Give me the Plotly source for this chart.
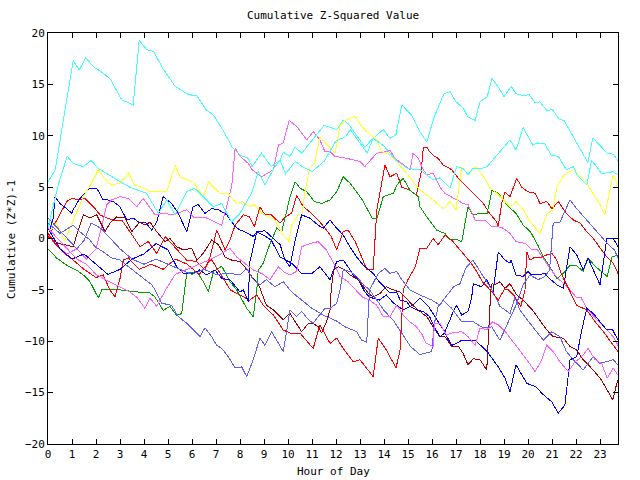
import plotly.graph_objects as go

# ---- data: (hour, cumulative value) pairs per series ----
cyan_a = [(0,5.5),(0.3,6.7),(1.05,17.3),(1.3,16.4),(1.57,17.6),(1.9,16.7),(2.3,16.1),(2.6,15.5),(3.07,13.5),(3.55,13.0),(3.8,19.3),(4.1,18.4),(4.4,18.2),(4.8,16.5),(5.3,14.8),(5.86,14.0),(6.2,13.9),(6.6,12.5),(6.9,12.0),(7.3,10.5),(7.7,8.8),(8.0,8.1),(8.35,7.8),(8.5,7.0),(8.9,8.3),(9.3,7.0),(9.67,7.6),(9.8,8.4),(10.08,8.0),(10.3,8.9),(10.57,8.3),(11.0,9.5),(11.5,11.0),(12.03,10.6),(12.3,11.5),(12.5,11.2),(13.2,8.9),(13.55,9.75),(13.97,10.6),(14.25,9.75),(14.5,10.1),(14.74,13.0),(15.15,12.0),(15.5,10.4),(15.78,9.4),(16.1,11.9),(16.5,14.1),(16.75,14.3),(17.0,13.3),(17.3,12.7),(17.5,11.8),(17.8,11.5),(18.0,13.3),(18.3,13.8),(18.5,15.6),(18.8,14.6),(19.0,13.8),(19.3,14.8),(19.5,14.1),(19.8,13.9),(20.05,14.0),(20.3,13.2),(20.5,13.3),(20.8,12.4),(21.0,12.6),(21.3,11.6),(21.5,11.5),(22.2,8.6),(22.5,7.4),(22.7,9.8),(23.0,9.1),(23.3,8.3),(23.55,8.2),(23.75,7.6)]
cyan_b = [(0,1.0),(0.4,5.0),(0.8,8.0),(1.05,7.3),(1.47,7.0),(1.8,7.6),(2.1,6.8),(2.86,5.7),(3.4,5.0),(4.1,4.4),(4.6,2.45),(4.95,3.75),(5.3,2.3),(5.78,4.55),(6.1,4.9),(6.47,4.07),(6.89,3.1),(7.24,3.4),(7.65,1.6),(8.0,2.45),(8.5,4.5),(8.76,6.5),(9.04,5.2),(9.4,6.8),(9.67,7.6),(9.9,6.3),(10.3,7.5),(10.6,7.0),(11.0,6.5),(11.5,7.5),(12.0,9.5),(12.4,9.9),(12.6,10.6),(13.3,8.3),(13.55,9.75),(14.0,9.0),(14.5,7.6),(15.0,6.8),(15.5,6.7),(16.05,5.7),(16.33,5.9),(16.75,4.9),(17.03,7.0),(17.3,6.8),(17.5,6.2),(17.7,6.8),(18.07,6.8),(18.3,7.0),(18.97,8.9),(19.25,9.6),(19.5,8.6),(19.8,10.8),(20.2,9.1),(20.4,9.3),(20.7,9.2),(20.97,8.1),(21.26,8.0),(21.6,6.7),(21.9,7.0),(22.03,6.2),(22.45,5.2),(22.65,7.6),(22.86,7.0),(23.07,6.3),(23.55,6.5),(23.75,6.2)]
yellow = [(0,0.5),(0.35,1.5),(0.7,-0.2),(1.05,1.8),(1.47,4.07),(1.89,5.7),(2.1,6.7),(2.4,5.7),(2.65,5.2),(3.0,5.4),(3.35,6.35),(3.6,5.2),(3.9,5.0),(4.25,4.55),(4.95,4.55),(5.3,7.15),(5.5,6.0),(5.78,5.7),(6.05,5.5),(6.47,4.07),(6.68,5.5),(7.17,4.4),(7.5,4.4),(7.86,3.4),(8.1,3.6),(8.4,3.1),(8.6,3.3),(8.9,2.45),(9.18,2.1),(9.46,1.8),(9.8,0.34),(10.05,-0.3),(10.15,1.3),(10.43,2.3),(10.57,2.1),(10.7,4.4),(10.9,6.8),(11.1,7.3),(11.33,9.9),(11.75,8.8),(11.96,8.3),(12.17,11.0),(12.4,11.5),(12.8,11.9),(13.07,10.9),(13.4,10.2),(13.7,9.6),(13.9,8.45),(14.25,8.2),(14.5,7.6),(14.8,6.7),(15.5,4.7),(16.05,3.75),(16.47,2.9),(16.75,3.6),(17.0,2.8),(17.24,7.0),(17.5,6.2),(17.8,7.0),(18.1,6.2),(18.4,5.0),(18.7,4.4),(18.97,3.75),(19.25,3.1),(19.5,3.6),(19.8,2.8),(20.1,1.6),(20.5,0.5),(20.8,2.45),(21.05,2.8),(21.2,5.0),(21.5,6.2),(21.9,6.7),(22.2,6.0),(22.45,5.4),(22.7,4.4),(23.0,3.3),(23.2,2.3),(23.55,6.2),(23.75,5.2)]
magenta_1 = [(0,0.3),(0.4,-0.8),(0.8,-1.5),(1.2,-1.0),(1.6,-2.0),(2.0,-1.0),(2.24,1.15),(2.45,3.3),(2.65,3.75),(3.0,4.07),(3.35,3.9),(3.7,3.1),(3.97,3.9),(4.46,2.3),(4.8,2.45),(5.22,2.3),(5.78,2.8),(6.1,2.0),(6.6,2.0),(7.24,1.3),(7.65,5.0),(7.8,8.8),(8.0,8.0),(8.35,7.3),(8.5,6.7),(8.9,6.0),(9.4,6.7),(9.6,9.1),(9.8,9.3),(10.05,11.5),(10.36,10.9),(10.78,9.6),(11.05,10.4),(11.33,9.6),(11.54,8.45),(11.75,8.45),(11.96,8.0),(12.45,7.8),(13.0,7.5),(13.2,7.0),(13.7,8.3),(14.1,8.45),(14.25,8.6),(14.45,7.8),(14.74,7.3),(15.1,6.7),(15.2,8.3),(15.43,7.8),(15.64,6.7),(15.78,6.2),(16.05,6.35),(16.33,5.0),(16.54,4.4),(16.8,4.07),(17.03,3.75),(17.3,3.4),(17.5,3.3),(17.8,1.8),(18.2,1.8),(18.35,1.5),(18.5,1.15),(18.76,1.15),(18.97,1.0),(19.25,0.5),(19.5,-0.3),(19.9,-0.5),(20.15,-1.1),(20.4,-1.1),(20.7,-2.1),(20.97,-3.1),(21.3,-4.0),(21.7,-4.85),(22.0,-5.7),(22.2,-5.7),(22.45,-6.8),(22.7,-7.45),(23.0,-8.25),(23.3,-8.9),(23.55,-9.55),(23.75,-10.4)]
magenta_2 = [(0,1.0),(0.4,0.0),(0.8,-1.0),(1.2,-2.0),(1.6,-2.5),(2.0,-3.5),(2.4,-4.0),(2.8,-4.5),(3.2,-5.0),(3.4,-5.2),(3.7,-5.7),(4.04,-6.8),(4.25,-5.8),(4.53,-6.6),(4.9,-5.0),(5.3,-3.5),(5.8,-3.0),(6.3,-2.5),(6.8,-2.0),(7.2,-1.5),(7.58,-0.95),(7.86,-1.8),(8.2,-2.4),(8.55,-3.05),(8.9,-3.4),(9.25,-4.0),(9.6,-2.75),(9.8,-3.2),(10.08,-3.55),(10.36,-3.2),(10.57,-0.8),(10.9,-0.5),(11.26,-0.3),(11.6,-1.1),(11.9,-2.4),(12.17,-3.7),(12.5,-4.2),(12.8,-5.0),(13.1,-5.7),(13.4,-6.0),(13.7,-6.5),(13.97,-7.6),(14.25,-7.6),(14.53,-6.5),(14.8,-7.45),(15.08,-8.1),(15.36,-8.6),(15.6,-9.4),(15.75,-10.2),(16.05,-10.5),(16.1,-8.25),(16.33,-8.25),(16.6,-9.4),(16.82,-9.2),(17.24,-9.07),(17.5,-9.55),(17.8,-10.4),(18.0,-8.7),(18.3,-8.9),(18.5,-8.1),(18.76,-8.4),(19.1,-9.2),(19.5,-10.4),(19.95,-11.8),(20.3,-12.96),(20.57,-11.8),(20.78,-10.4),(21.05,-11.0),(21.33,-12.0),(21.68,-12.96),(21.96,-12.0),(22.24,-11.5),(22.5,-10.7),(22.8,-11.8),(23.07,-12.15),(23.3,-13.6),(23.55,-12.6),(23.75,-13.3)]
green = [(0,-1.0),(0.36,-1.9),(0.78,-2.6),(1.2,-3.1),(1.47,-3.55),(1.75,-4.2),(2.1,-5.8),(2.24,-5.0),(2.6,-5.0),(3.0,-5.0),(3.7,-5.2),(4.25,-5.3),(4.46,-5.7),(4.8,-7.0),(5.08,-6.6),(5.36,-7.5),(5.57,-7.3),(5.7,-5.0),(5.78,-3.4),(6.2,-3.2),(6.47,-4.2),(6.68,-5.2),(6.9,-3.2),(7.24,-2.7),(7.58,-4.2),(7.86,-5.0),(8.28,-6.8),(8.55,-7.6),(8.7,-5.0),(8.76,-3.1),(8.97,-2.4),(9.25,-0.5),(9.53,1.0),(9.74,0.66),(9.95,2.6),(10.1,4.2),(10.3,5.5),(10.5,4.9),(10.78,4.55),(11.1,3.6),(11.4,3.4),(11.75,3.75),(12.03,4.55),(12.3,6.0),(12.6,5.35),(12.86,4.55),(13.1,3.75),(13.5,2.0),(13.7,1.9),(13.97,4.07),(14.4,4.4),(14.53,5.2),(14.8,5.85),(15.08,4.7),(15.43,4.07),(15.5,3.1),(15.78,2.1),(16.2,0.8),(16.54,0.5),(16.75,-0.15),(17.03,-0.1),(17.24,-0.3),(17.5,3.1),(17.7,2.3),(18.0,2.45),(18.3,2.45),(18.5,4.7),(18.76,4.4),(18.97,3.75),(19.18,3.1),(19.5,2.45),(19.8,1.3),(20.1,0.66),(20.4,-0.6),(20.64,-1.8),(20.9,-2.7),(21.2,-3.9),(21.47,-3.4),(21.75,-2.6),(22.0,-2.6),(22.3,-3.2),(22.5,-1.9),(22.8,-2.7),(23.07,-3.2),(23.3,-3.7),(23.5,-1.8),(23.75,-1.6)]
red_c = [(0,0.0),(0.3,1.5),(0.78,3.6),(0.99,3.9),(1.33,3.75),(1.54,3.9),(1.89,3.1),(2.17,2.3),(2.45,2.0),(2.72,1.8),(3.07,1.8),(3.28,1.15),(3.55,0.2),(3.83,-0.8),(4.18,-0.3),(4.53,-1.45),(4.88,0.2),(5.15,-0.5),(5.5,-1.45),(5.78,-2.1),(6.2,-2.25),(6.54,-3.05),(6.75,-1.8),(7.03,0.83),(7.38,-1.1),(7.58,-0.15),(7.8,1.3),(8.14,2.3),(8.4,2.1),(8.6,1.15),(8.83,3.1),(9.04,2.3),(9.3,2.3),(9.67,1.5),(9.88,2.1),(10.15,2.45),(10.36,4.2),(10.64,3.1),(10.9,2.6),(11.26,1.8),(11.6,0.83),(11.8,0.2),(12.03,-1.1),(12.3,0.66),(12.5,0.83),(12.8,-0.3),(13.07,-1.8),(13.28,-3.05),(13.55,-3.05),(13.7,2.8),(14.04,7.15),(14.25,6.0),(14.53,6.35),(14.74,5.0),(15.08,4.7),(15.35,4.2),(15.55,6.5),(15.64,8.9),(15.78,8.9),(15.9,8.45),(16.1,8.0),(16.26,7.8),(16.47,7.15),(16.82,6.7),(17.1,5.85),(17.45,5.0),(17.8,4.2),(18.14,3.4),(18.4,2.45),(18.7,1.6),(18.76,1.15),(18.9,3.4),(19.04,4.55),(19.25,4.07),(19.53,5.85),(19.74,5.0),(20.0,4.55),(20.3,4.4),(20.5,3.4),(20.78,3.6),(21.0,2.9),(21.26,3.6),(21.6,2.45),(21.89,1.8),(22.17,1.5),(22.45,0.66),(22.72,0.0),(23.07,-1.1),(23.28,-1.8),(23.55,-2.4),(23.75,-3.4)]
red_a = [(0,0.5),(0.3,-0.5),(0.7,-1.5),(1.0,-2.0),(1.5,-3.0),(2.0,-3.8),(2.3,-3.55),(2.58,-5.0),(2.8,-5.7),(2.86,-5.0),(3.0,-3.9),(3.14,-2.1),(3.35,-1.9),(3.8,-3.0),(4.3,-2.5),(4.8,-3.0),(5.3,-2.0),(5.8,-2.5),(6.3,-3.5),(6.8,-2.0),(7.2,-3.5),(7.6,-5.0),(8.0,-5.5),(8.4,-6.0),(8.7,-5.5),(8.97,-6.5),(9.39,-7.45),(9.8,-8.9),(10.08,-9.2),(10.5,-9.2),(11.05,-10.7),(11.33,-8.4),(11.75,-10.2),(12.03,-9.7),(12.3,-10.7),(12.72,-12.0),(13.0,-11.8),(13.28,-12.6),(13.55,-13.45),(13.76,-9.7),(14.1,-10.85),(14.5,-12.6),(14.67,-10.85),(14.8,-5.0),(15.0,-4.0),(15.3,-2.75),(15.5,-0.95),(15.78,-0.95),(16.05,0.0),(16.26,-0.6),(16.54,0.34),(16.82,-0.15),(17.17,-1.1),(17.58,-2.25),(17.86,-3.2),(18.1,-4.2),(18.5,-5.2),(18.76,-6.0),(19.0,-5.0),(19.18,-5.0),(19.4,-5.5),(19.7,-6.6),(19.875,-5.0),(19.95,-1.3),(20.08,-2.1),(20.3,-1.8),(20.5,-1.9),(20.78,-1.6),(21.0,-1.45),(21.2,-2.1),(21.4,-3.5),(21.7,-5.0),(22.03,-6.5),(22.45,-6.96),(22.8,-8.1),(23.14,-9.07),(23.49,-10.2),(23.75,-11.0)]
dark_red = [(0,0.2),(0.43,-0.5),(0.7,-0.6),(1.05,-0.8),(1.26,0.83),(1.47,2.3),(1.75,2.0),(2.03,2.3),(2.38,0.66),(2.58,1.5),(2.86,2.1),(3.2,2.0),(3.49,0.66),(3.83,1.6),(4.04,1.3),(4.25,1.6),(4.53,0.66),(4.88,-0.3),(5.08,0.0),(5.36,-0.8),(5.64,-1.1),(5.99,-0.95),(6.2,-2.1),(6.47,-1.45),(6.82,-0.15),(7.1,-0.6),(7.38,-1.8),(7.65,-2.1),(8.0,-2.25),(8.2,-2.75),(8.49,-3.7),(8.76,-4.4),(8.97,-5.7),(9.1,-6.5),(9.39,-6.96),(9.8,-7.9),(10.08,-7.3),(10.3,-8.1),(10.57,-9.07),(10.85,-8.25),(11.05,-8.25),(11.26,-8.6),(11.4,-9.2),(11.6,-8.1),(11.75,-6.96),(11.8,-5.0),(11.9,-3.05),(12.1,-2.75),(12.38,-3.05),(12.58,-3.55),(12.93,-4.0),(13.14,-4.7),(13.35,-5.35),(13.55,-5.7),(13.83,-5.35),(14.1,-4.7),(14.39,-5.0),(14.67,-5.2),(14.88,-5.7),(15.2,-6.5),(15.5,-7.1),(15.78,-7.6),(16.13,-8.9),(16.33,-9.55),(16.54,-9.55),(16.82,-10.5),(17.1,-10.5),(17.3,-11.2),(17.5,-12.3),(17.72,-11.7),(18.0,-11.8),(18.28,-12.8),(18.45,-5.0),(18.5,-4.4),(18.63,-4.5),(18.83,-4.2),(19.04,-4.85),(19.25,-4.4),(19.53,-5.5),(19.8,-6.0),(20.2,-7.0),(20.5,-8.0),(20.78,-8.9),(21.05,-9.55),(21.47,-9.7),(21.75,-10.5),(22.03,-10.85),(22.3,-11.8),(22.72,-12.8),(23.07,-13.8),(23.28,-14.7),(23.53,-15.7),(23.7,-14.1),(23.75,-13.8)]
blue_hi = [(0,0.3),(0.22,2.0),(0.29,4.07),(0.5,3.4),(0.78,2.9),(0.99,2.45),(1.05,2.8),(1.33,3.9),(1.54,4.4),(1.75,4.9),(2.03,4.9),(2.3,3.75),(2.5,3.75),(2.72,3.6),(3.0,3.1),(3.28,1.8),(3.55,2.0),(3.83,1.5),(4.04,1.6),(4.32,0.83),(4.53,1.6),(4.8,4.07),(5.15,3.4),(5.43,2.45),(5.78,0.66),(6.05,3.1),(6.26,3.3),(6.54,2.45),(6.82,2.9),(7.1,2.8),(7.45,2.3),(7.8,1.15),(8.0,0.83),(8.2,0.66),(8.55,0.2),(8.7,0.66),(8.97,0.34),(9.3,-0.15),(9.67,-1.8),(10.15,-2.4),(10.57,-3.4),(11.0,-3.4),(11.33,-2.75),(11.75,-4.0),(12.03,-2.25),(12.3,-2.1),(12.5,-2.75),(12.72,-3.55),(12.93,-4.0),(13.2,-5.2),(13.4,-5.7),(13.8,-6.0),(14.1,-5.5),(14.4,-6.3),(14.8,-6.96),(15.2,-6.5),(15.5,-5.8),(15.85,-6.6),(16.2,-7.9),(16.54,-9.07),(16.75,-7.9),(16.9,-7.0),(17.03,-6.5),(17.24,-7.45),(17.5,-7.1),(17.65,-5.8),(17.72,-4.4),(18.07,-4.7),(18.28,-4.0),(18.55,-5.2),(18.76,-1.3),(19.04,-2.1),(19.25,-2.4),(19.3,-2.1),(19.5,-3.55),(19.8,-3.7),(20.0,-3.2),(20.15,-3.55),(20.43,-3.55),(20.7,-3.4),(20.9,-3.9),(21.2,-4.5),(21.47,-4.85),(21.75,-0.8),(22.03,-1.6),(22.3,-3.05),(22.5,-1.9),(22.8,-3.55),(23.0,-4.5),(23.1,-3.05),(23.28,0.0),(23.55,0.0),(23.75,-0.8)]
blue_lo = [(0,1.0),(0.5,-1.0),(1.0,-2.0),(1.5,-1.5),(2.0,-2.5),(2.5,-3.5),(3.0,-3.0),(3.5,-2.0),(4.0,-1.5),(4.5,-0.5),(5.0,-1.1),(5.36,-2.75),(5.64,-3.4),(6.05,-3.4),(6.33,-3.05),(6.6,-3.55),(6.96,-3.05),(7.24,-3.9),(7.58,-4.0),(7.86,-4.85),(8.0,-5.2),(8.14,-5.0),(8.35,-6.15),(8.4,-2.4),(8.7,0.66),(9.04,0.75),(9.4,0.0),(9.67,-0.6),(9.88,-2.1),(10.08,-2.75),(10.3,-0.15),(10.57,2.3),(10.9,2.0),(11.26,1.3),(11.47,1.0),(11.75,1.8),(12.03,1.0),(12.3,0.34),(12.58,-0.8),(12.86,-1.8),(13.14,-2.6),(13.35,-3.05),(13.55,-3.4),(13.8,-4.2),(14.1,-5.0),(14.25,-5.3),(14.53,-5.2),(14.67,-6.0),(14.95,-6.15),(15.08,-6.6),(15.36,-6.96),(15.64,-7.1),(15.9,-7.6),(16.05,-8.4),(16.33,-9.55),(16.54,-9.2),(16.82,-10.4),(17.03,-10.2),(17.24,-9.9),(17.45,-9.9),(17.8,-9.9),(18.3,-11.0),(18.76,-12.5),(19.04,-13.6),(19.25,-14.9),(19.5,-12.3),(19.95,-14.1),(20.3,-14.4),(20.64,-15.2),(20.99,-15.9),(21.26,-17.0),(21.54,-16.2),(21.75,-11.8),(22.03,-11.5),(22.24,-8.9),(22.45,-6.8),(22.72,-7.3),(23.0,-8.1),(23.28,-8.9),(23.53,-8.9),(23.75,-9.9)]
light_blue_1 = [(0,1.5),(0.5,0.5),(1.05,1.3),(1.33,0.66),(1.75,-0.15),(1.96,-0.8),(2.3,-1.3),(2.65,-1.9),(3.0,-2.1),(3.35,-2.75),(3.7,-3.4),(3.97,-3.9),(4.32,-4.5),(4.46,-5.0),(4.74,-6.3),(5.15,-6.5),(5.43,-7.6),(5.78,-8.25),(6.05,-8.9),(6.33,-9.55),(6.54,-8.7),(6.82,-9.55),(7.03,-10.4),(7.24,-10.7),(7.51,-11.5),(7.8,-12.6),(8.07,-12.5),(8.28,-13.45),(8.55,-11.8),(8.83,-9.7),(9.04,-10.4),(9.32,-9.07),(9.6,-10.2),(9.8,-11.0),(9.95,-8.9),(10.08,-6.96),(10.36,-7.6),(10.57,-7.1),(10.85,-7.9),(11.05,-8.25),(11.26,-7.6),(11.54,-6.8),(11.75,-6.8),(12.03,-6.3),(12.17,-5.0),(12.3,-3.05),(12.58,-3.2),(12.86,-3.7),(13.14,-4.5),(13.4,-5.0),(13.7,-6.0),(14.0,-7.0),(14.4,-8.0),(14.8,-9.5),(15.1,-10.5),(15.5,-11.3),(15.99,-11.0),(16.1,-8.25),(16.26,-6.6),(16.47,-6.0),(16.9,-4.7),(17.17,-4.4),(17.4,-2.9),(17.7,-2.1),(18.1,-3.5),(18.5,-5.0),(18.83,-6.6),(19.25,-7.3),(19.46,-5.7),(19.67,-7.0),(20.08,-8.25),(20.64,-9.9),(20.99,-9.07),(21.33,-9.55),(21.6,-11.0),(21.89,-11.8),(22.3,-12.8),(22.72,-11.5),(23.0,-12.15),(23.28,-12.0),(23.55,-11.8),(23.75,-12.3)]
light_blue_2 = [(0,2.0),(0.4,1.0),(0.8,0.0),(1.2,-1.0),(1.5,-0.2),(1.8,1.5),(2.2,1.0),(2.6,0.0),(3.0,-1.0),(3.5,-2.0),(4.0,-2.5),(4.5,-2.0),(5.0,-2.5),(5.5,-3.0),(6.0,-3.5),(6.5,-3.0),(7.0,-3.5),(7.58,-3.4),(8.0,-3.55),(8.28,-2.9),(8.55,-4.0),(8.83,-4.5),(9.1,-4.0),(9.46,-4.7),(9.8,-4.2),(10.15,-5.2),(10.6,-6.0),(11.0,-6.8),(11.5,-7.5),(12.0,-8.0),(12.38,-8.6),(12.86,-9.07),(13.07,-9.9),(13.28,-10.1),(13.35,-7.0),(13.4,-5.0),(13.76,-3.4),(14.04,-2.9),(14.25,-3.4),(14.53,-3.2),(14.74,-4.0),(15.08,-5.0),(15.5,-5.5),(16.0,-6.0),(16.33,-6.5),(16.47,-6.0),(16.82,-6.8),(17.24,-8.1),(17.72,-8.1),(18.14,-8.7),(18.49,-8.6),(18.83,-9.9),(19.2,-8.0),(19.5,-6.5),(19.8,-4.5),(20.08,-3.55),(20.43,-4.0),(20.7,-3.7),(20.9,-3.05),(21.05,1.5),(21.33,1.6),(21.75,3.75),(22.03,2.9),(22.45,1.8),(22.72,1.15),(23.07,0.2),(23.35,-0.6),(23.6,-1.1),(23.75,-1.9)]

series = [
    (red_c, "#ff0000"), (green, "#00a000"), (blue_hi, "#0000ff"),
    (magenta_1, "#ff60ff"), (cyan_a, "#40ffff"), (yellow, "#ffff20"),
    (dark_red, "#a00000"), (light_blue_1, "#6060ff"),
    (red_a, "#ff0000"), (blue_lo, "#0000ff"), (magenta_2, "#ff60ff"),
    (cyan_b, "#40ffff"), (light_blue_2, "#6060ff"),
]

x_ticks = list(range(0, 24))
y_ticks = list(range(-20, 21, 5))

FONT = "DejaVu Sans Mono"

fig = go.Figure()
for pts, col in series:
    fig.add_trace(go.Scatter(
        x=[p[0] for p in pts], y=[p[1] for p in pts], mode="lines",
        line=dict(color=col, width=1), hoverinfo="skip", showlegend=False))

axis_common = dict(showline=True, linecolor="black", linewidth=1, mirror="ticks",
                   ticks="inside", ticklen=5, tickcolor="black", showgrid=False,
                   zeroline=False, tickfont=dict(family=FONT, size=11, color="black"))
fig.update_xaxes(range=[0, 23.75], tickvals=x_ticks, **axis_common)
fig.update_yaxes(range=[-20, 20], tickvals=y_ticks, **axis_common)

fig.update_layout(
    width=640, height=480, paper_bgcolor="white", plot_bgcolor="white",
    margin=dict(l=48, r=22, t=33, b=36),
    annotations=[
        dict(text="Cumulative Z-Squared Value", xref="paper", yref="paper",
             x=0.5, y=(444 - 16) / 411, xanchor="center", yanchor="middle",
             showarrow=False, font=dict(family=FONT, size=11, color="black")),
        dict(text="Hour of Day", xref="paper", yref="paper",
             x=0.5, y=(444 - 471) / 411, xanchor="center", yanchor="middle",
             showarrow=False, font=dict(family=FONT, size=11, color="black")),
        dict(text="Cumulative (Z*Z)-1", xref="paper", yref="paper",
             x=(12 - 48) / 570, y=(444 - 240) / 411, xanchor="center", yanchor="middle",
             textangle=-90, showarrow=False, font=dict(family=FONT, size=11, color="black")),
    ],
)

crisp_js = """
var st = document.createElement('style');
st.textContent = '.scatterlayer path.js-line { shape-rendering: crispEdges; }';
document.head.appendChild(st);
"""
fig.write_html("out.html", post_script=crisp_js)
